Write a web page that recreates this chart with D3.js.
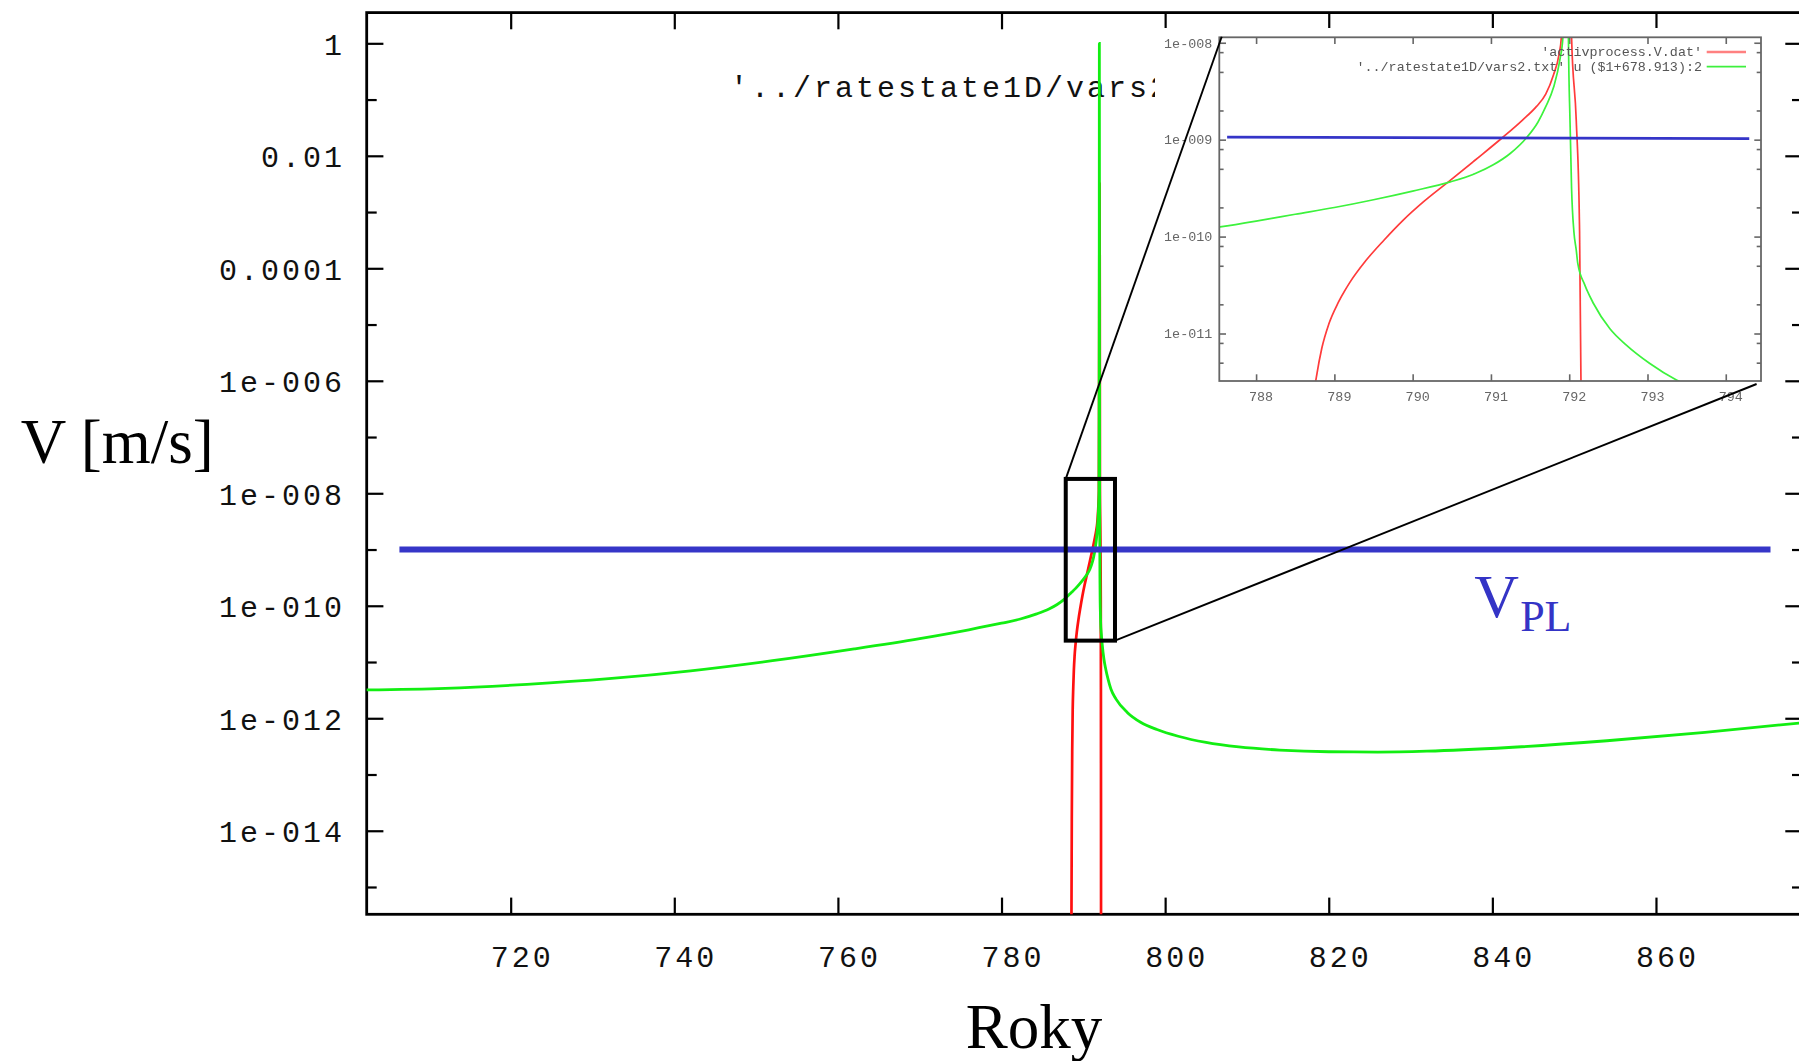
<!DOCTYPE html>
<html>
<head>
<meta charset="utf-8">
<script src="https://cdn.jsdelivr.net/npm/d3@7"></script>
<style>
  html, body { margin: 0; padding: 0; background: #fff; overflow: hidden; }
  svg { display: block; }
</style>
</head>
<body>
<svg id="chart" width="1799" height="1061"></svg>
<script>
// ---------- data ----------
const xTicks = [720, 740, 760, 780, 800, 820, 840, 860];
const yTickValues = [1, 1e-2, 1e-4, 1e-6, 1e-8, 1e-10, 1e-12, 1e-14];
const yTickLabels = ["1", "0.01", "0.0001", "1e-006", "1e-008", "1e-010", "1e-012", "1e-014"];
const yMinorValues = [1e-1, 1e-3, 1e-5, 1e-7, 1e-9, 1e-11, 1e-13, 1e-15];

// slip velocity from ratestate1D (shifted by 678.913 years)
const greenYears = [702.3, 712, 722, 732, 742, 752, 762, 770, 776, 780, 782.3, 784.3, 785.8,
  786.8, 787.54, 788.0, 788.5, 789.0, 789.5, 790.0, 790.48, 790.8, 791.03, 791.25, 791.46,
  791.6, 791.7, 791.8, 791.88, 791.92, 791.94, 791.95, 791.96, 791.975, 791.99, 792.01,
  792.03, 792.06, 792.09, 792.11, 792.2, 792.31, 792.52, 792.73, 793.03, 793.37, 794.0,
  795.4, 797, 799, 801.6, 805, 809, 814, 820, 826, 832, 842, 854, 866, 877.85];
const greenV = [3.19e-12, 3.41e-12, 4.01e-12, 5.05e-12, 6.97e-12, 1.054e-11, 1.71e-11,
  2.61e-11, 3.74e-11, 4.89e-11, 5.82e-11, 7.16e-11, 8.75e-11,
  1.052e-10, 1.259e-10, 1.445e-10, 1.70e-10, 1.995e-10, 2.40e-10, 2.95e-10, 3.67e-10,
  4.47e-10, 5.50e-10, 7.24e-10, 1.059e-9,
  1.514e-9, 2.19e-9, 3.47e-9, 6.61e-9, 1.148e-8, 1e-6, 1e-3, 1.0, 1e-4, 1.15e-8, 1.58e-9,
  3.16e-10, 1.12e-10, 7.24e-11, 5.25e-11, 3.16e-11, 2.04e-11, 1.12e-11, 7.59e-12, 4.90e-12,
  3.31e-12, 2.19e-12,
  1.259e-12, 8.51e-13, 6.31e-13, 4.79e-13, 3.72e-13, 3.09e-13, 2.72e-13, 2.54e-13, 2.51e-13,
  2.60e-13, 3.02e-13, 3.98e-13, 5.62e-13, 8.32e-13];

// slip velocity from activprocess.V.dat
const redYears = [788.50, 788.55, 788.59, 788.64, 788.70, 788.77, 788.84, 788.93, 789.05,
  789.20, 789.40, 789.63, 789.88, 790.14, 790.48, 790.80, 791.16, 791.40, 791.58, 791.70,
  791.80, 791.87, 791.90, 791.93, 791.96, 791.985, 792.01, 792.03, 792.09, 792.13, 792.15,
  792.16, 792.17];
const redV = [1e-18, 3.16e-16, 1.585e-14, 2.51e-13, 1.413e-12, 3.55e-12, 7.08e-12, 1.259e-11,
  2.09e-11, 3.39e-11, 5.62e-11, 9.12e-11, 1.479e-10, 2.29e-10, 3.80e-10, 6.17e-10, 1.072e-9,
  1.585e-9, 2.19e-9, 2.95e-9, 4.68e-9, 7.59e-9, 1.148e-8, 1e-6, 3.16e-4, 3.16e-3, 3.16e-5,
  1.15e-8, 1.58e-9, 1.48e-10, 3.31e-12, 3.16e-14, 1e-17];

// plate velocity V_PL
const vplYears = [706.4, 874.0];
const vplValue = 1e-9;

// zoomed window
const zoomBoxYears = [787.85, 793.87];
const zoomBoxV = [1.8e-8, 2.4e-11];

const insetXTicks = [788, 789, 790, 791, 792, 793, 794];
const insetYTickValues = [1e-8, 1e-9, 1e-10, 1e-11];
const insetYTickLabels = ["1e-008", "1e-009", "1e-010", "1e-011"];
const insetYMinor = [8e-9, 5e-9, 2e-9, 8e-10, 5e-10, 2e-10, 8e-11, 5e-11, 2e-11, 8e-12, 5e-12];
const insetVplYears = [787.63, 794.30];
const insetVplV = [1.064e-9, 1.024e-9];
const legendLabels = ["'activprocess.V.dat'", "'../ratestate1D/vars2.txt' u ($1+678.913):2"];

// ---------- layout ----------
const svg = d3.select("#chart");
const plot = { left: 366.7, right: 1802, top: 12.6, bottom: 914.3 };
const x = d3.scaleLinear().domain([702.4, 877.85]).range([plot.left, plot.right]);
const y = d3.scaleLog().domain([3.27e-16, 3.516]).range([plot.bottom, plot.top]);

const monoFont = "'Liberation Mono', 'DejaVu Sans Mono', monospace";
const serifFont = "'Liberation Serif', 'DejaVu Serif', serif";
const majorLen = 16.7, minorLen = 10;

const defs = svg.append("defs");
defs.append("clipPath").attr("id", "mainClip").append("rect")
  .attr("x", plot.left).attr("y", plot.top)
  .attr("width", plot.right - plot.left).attr("height", plot.bottom - plot.top);

// ---------- main axes ----------
const axisStyle = g => {
  g.select(".domain").remove();
  g.selectAll(".tick line").attr("stroke", "#000").attr("stroke-width", 2.2);
};

// bottom
svg.append("g").attr("transform", `translate(0,${plot.bottom})`)
  .call(d3.axisBottom(x).tickValues(xTicks).tickSize(-majorLen).tickFormat(d3.format("d")))
  .call(axisStyle)
  .call(g => g.selectAll(".tick text")
    .attr("y", 52.4).attr("dy", null).attr("dx", 11)
    .attr("font-family", monoFont).attr("font-size", 30)
    .attr("letter-spacing", 3).attr("fill", "#111"));
// top mirror
svg.append("g").attr("transform", `translate(0,${plot.top})`)
  .call(d3.axisTop(x).tickValues(xTicks).tickSize(-majorLen).tickFormat(""))
  .call(axisStyle);

// left
svg.append("g").attr("transform", `translate(${plot.left},0)`)
  .call(d3.axisLeft(y).tickValues(yTickValues).tickSize(-majorLen)
    .tickFormat((d, i) => yTickLabels[i]))
  .call(axisStyle)
  .call(g => g.selectAll(".tick text")
    .attr("x", -21.7).attr("dy", "0.36em")
    .attr("font-family", monoFont).attr("font-size", 30)
    .attr("letter-spacing", 3).attr("fill", "#111"));
svg.append("g").attr("transform", `translate(${plot.left},0)`)
  .call(d3.axisLeft(y).tickValues(yMinorValues).tickSize(-minorLen).tickFormat(""))
  .call(axisStyle);
// right mirror
svg.append("g").attr("transform", `translate(${plot.right},0)`)
  .call(d3.axisRight(y).tickValues(yTickValues).tickSize(-majorLen).tickFormat(""))
  .call(axisStyle);
svg.append("g").attr("transform", `translate(${plot.right},0)`)
  .call(d3.axisRight(y).tickValues(yMinorValues).tickSize(-minorLen).tickFormat(""))
  .call(axisStyle);

// frame
svg.append("rect")
  .attr("x", plot.left).attr("y", plot.top)
  .attr("width", plot.right - plot.left).attr("height", plot.bottom - plot.top)
  .attr("fill", "none").attr("stroke", "#000").attr("stroke-width", 2.8);

// axis titles
svg.append("text").attr("x", 20.7).attr("y", 463)
  .attr("font-family", serifFont).attr("font-size", 63).attr("fill", "#000")
  .text("V [m/s]");
svg.append("text").attr("x", 1034).attr("y", 1048).attr("text-anchor", "middle")
  .attr("font-family", serifFont).attr("font-size", 63).attr("fill", "#000")
  .text("Roky");

// main key (mostly hidden behind the inset)
svg.append("text").attr("x", 730).attr("y", 97)
  .attr("font-family", monoFont).attr("font-size", 30).attr("letter-spacing", 3)
  .attr("fill", "#111").text(legendLabels[1]);

// ---------- main curves ----------
const lineMain = d3.line()
  .x(d => x(d[0])).y(d => y(d[1]))
  .curve(d3.curveMonotoneX);
const redData = d3.zip(redYears, redV);
const greenData = d3.zip(greenYears, greenV);

const curves = svg.append("g").attr("clip-path", "url(#mainClip)");
curves.append("path").datum(redData).attr("d", lineMain)
  .attr("fill", "none").attr("stroke", "#ff1010").attr("stroke-width", 2.7);
curves.append("path").datum(greenData).attr("d", lineMain)
  .attr("fill", "none").attr("stroke", "#12ee12").attr("stroke-width", 2.8);

// V_PL line
svg.append("line")
  .attr("x1", x(vplYears[0])).attr("x2", x(vplYears[1]))
  .attr("y1", y(vplValue)).attr("y2", y(vplValue))
  .attr("stroke", "#3636c8").attr("stroke-width", 6);

const vplLabel = svg.append("text")
  .attr("x", x(837.8)).attr("y", y(vplValue) + 67)
  .attr("font-family", serifFont).attr("fill", "#3434c6");
vplLabel.append("tspan").attr("font-size", 62).text("V");
vplLabel.append("tspan").attr("font-size", 44).attr("dx", 1).attr("dy", 14).text("PL");

// zoom window
svg.append("rect")
  .attr("x", x(zoomBoxYears[0])).attr("y", y(zoomBoxV[0]))
  .attr("width", x(zoomBoxYears[1]) - x(zoomBoxYears[0]))
  .attr("height", y(zoomBoxV[1]) - y(zoomBoxV[0]))
  .attr("fill", "none").attr("stroke", "#000").attr("stroke-width", 4);

// ---------- inset ----------
const inset = { left: 1219.3, right: 1761, top: 37.3, bottom: 381 };
const ix = d3.scaleLinear().domain([787.53, 794.45]).range([inset.left, inset.right]);
const iy = d3.scaleLog().domain([3.236e-12, 1.138e-8]).range([inset.bottom, inset.top]);

defs.append("clipPath").attr("id", "insetClip").append("rect")
  .attr("x", inset.left).attr("y", inset.top)
  .attr("width", inset.right - inset.left).attr("height", inset.bottom - inset.top);
defs.append("filter").attr("id", "soft").attr("x", "-5%").attr("y", "-5%")
  .attr("width", "110%").attr("height", "110%")
  .append("feGaussianBlur").attr("stdDeviation", 0.6);

// white backing of the inset
svg.append("rect").attr("x", 1155).attr("y", 28).attr("width", 620).attr("height", 380)
  .attr("fill", "#fff");

const ig = svg.append("g").attr("filter", "url(#soft)");
const insetAxisStyle = g => {
  g.select(".domain").remove();
  g.selectAll(".tick line").attr("stroke", "#666").attr("stroke-width", 1.6);
};
const insetText = g => g.selectAll(".tick text")
  .attr("font-family", monoFont).attr("font-size", 13.4).attr("fill", "#666");

ig.append("g").attr("transform", `translate(0,${inset.bottom})`)
  .call(d3.axisBottom(ix).tickValues(insetXTicks).tickSize(-6.7).tickFormat(d3.format("d")))
  .call(insetAxisStyle).call(insetText)
  .call(g => g.selectAll(".tick text").attr("y", 10).attr("dx", 4.5));
ig.append("g").attr("transform", `translate(0,${inset.top})`)
  .call(d3.axisTop(ix).tickValues(insetXTicks).tickSize(-6.7).tickFormat(""))
  .call(insetAxisStyle);
ig.append("g").attr("transform", `translate(${inset.left},0)`)
  .call(d3.axisLeft(iy).tickValues(insetYTickValues).tickSize(-6.7)
    .tickFormat((d, i) => insetYTickLabels[i]))
  .call(insetAxisStyle).call(insetText)
  .call(g => g.selectAll(".tick text").attr("x", -7));
ig.append("g").attr("transform", `translate(${inset.left},0)`)
  .call(d3.axisLeft(iy).tickValues(insetYMinor).tickSize(-4.3).tickFormat(""))
  .call(insetAxisStyle);
ig.append("g").attr("transform", `translate(${inset.right},0)`)
  .call(d3.axisRight(iy).tickValues(insetYTickValues).tickSize(-6.7).tickFormat(""))
  .call(insetAxisStyle);
ig.append("g").attr("transform", `translate(${inset.right},0)`)
  .call(d3.axisRight(iy).tickValues(insetYMinor).tickSize(-4.3).tickFormat(""))
  .call(insetAxisStyle);

const lineInset = d3.line()
  .x(d => ix(d[0])).y(d => iy(d[1]))
  .curve(d3.curveMonotoneX);
const icurves = ig.append("g").attr("clip-path", "url(#insetClip)");
icurves.append("path").datum(redData).attr("d", lineInset)
  .attr("fill", "none").attr("stroke", "#ff3a3a").attr("stroke-width", 1.7);
icurves.append("path").datum(greenData).attr("d", lineInset)
  .attr("fill", "none").attr("stroke", "#3cf23c").attr("stroke-width", 1.7);

ig.append("rect")
  .attr("x", inset.left).attr("y", inset.top)
  .attr("width", inset.right - inset.left).attr("height", inset.bottom - inset.top)
  .attr("fill", "none").attr("stroke", "#666").attr("stroke-width", 1.8);

// inset key
const keyColors = ["#ff8080", "#3cf03c"];
legendLabels.forEach((label, i) => {
  const yy = 56 + i * 14.7;
  ig.append("text").attr("x", 1702).attr("y", yy).attr("text-anchor", "end")
    .attr("font-family", monoFont).attr("font-size", 13.4).attr("fill", "#555")
    .text(label);
  ig.append("line").attr("x1", 1706.7).attr("x2", 1746)
    .attr("y1", yy - 4).attr("y2", yy - 4)
    .attr("stroke", keyColors[i]).attr("stroke-width", i === 0 ? 2.6 : 1.8);
});

// V_PL inside the inset
svg.append("line")
  .attr("x1", ix(insetVplYears[0])).attr("x2", ix(insetVplYears[1]))
  .attr("y1", iy(insetVplV[0])).attr("y2", iy(insetVplV[1]))
  .attr("stroke", "#3535c8").attr("stroke-width", 2.8);

// connectors from the zoom window to the inset
svg.append("line")
  .attr("x1", x(zoomBoxYears[0])).attr("y1", y(zoomBoxV[0]))
  .attr("x2", inset.left + 2.4).attr("y2", inset.top - 0.6)
  .attr("stroke", "#000").attr("stroke-width", 1.9);
svg.append("line")
  .attr("x1", x(zoomBoxYears[1])).attr("y1", y(zoomBoxV[1]))
  .attr("x2", inset.right - 4.4).attr("y2", inset.bottom + 3)
  .attr("stroke", "#000").attr("stroke-width", 1.9);
</script>
</body>
</html>
